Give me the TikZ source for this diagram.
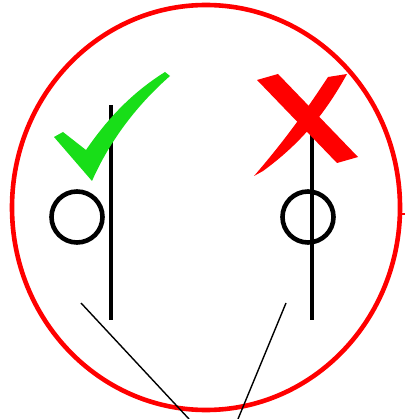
\documentclass[tikz,border=0pt]{standalone}
\usepackage{tikz}
\usetikzlibrary{positioning,calc}
\definecolor{tickgreen}{RGB}{24,222,24}
\definecolor{crossred} {RGB}{255,0,0}

\begin{document}
\begin{tikzpicture}[x=1pt, y=-1pt,
  ring/.style={circle, draw=black, line width=4.6pt, minimum size=51pt, inner sep=0pt},
  pole/.style={line width=4pt, black},
  lead/.style={line width=1.4pt, black}
]
  \useasboundingbox (0,0) rectangle (405,419);

  % outer red outline
  \draw[crossred, line width=4.6pt] (206,207.5) ellipse [x radius=194, y radius=202.5];
  \draw[crossred, line width=2pt] (400,214) -- (405,214);

  % the two poles
  \coordinate (LT) at (111,105);
  \coordinate (LB) at (111,320);
  \coordinate (RT) at (312,105);
  \coordinate (RB) at (312,320);
  \draw[pole] (LT) -- (LB);
  \draw[pole] (RT) -- (RB);

  \node[ring] (Lring) at (77,217) {};
  \node[ring] (Rring) at (308,217) {};

  % tick and cross
  \fill[tickgreen] (54,137) -- (63,132) -- (86,150)
    .. controls (112,112) and (138,89) .. (165,72) -- (170,76)
    .. controls (138,104) and (110,140) .. (92,181) -- cycle;
  \fill[crossred] (257,80) -- (278,74) -- (358,157) -- (337,163) -- cycle;
  \fill[crossred] (254,176) .. controls (285,140) and (305,112) .. (328,77)
    -- (347,74) .. controls (325,114) and (300,144) .. (263,171) -- cycle;

  % leads to the bottom
  \coordinate (La) at (81,303);
  \coordinate (Lz) at (189,419);
  \coordinate (Ra) at (286,303);
  \coordinate (Rz) at (238,419);
  \draw[lead] (La) -- (Lz);
  \draw[lead] (Ra) -- (Rz);
\end{tikzpicture}
\end{document}
